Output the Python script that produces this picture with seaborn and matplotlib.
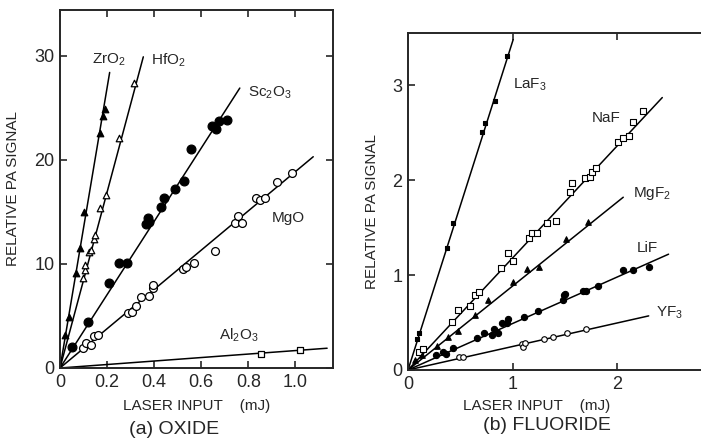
import numpy as np
import matplotlib
matplotlib.use("Agg")
import matplotlib.pyplot as plt
import seaborn as sns

# ---- (a) oxide data: laser input (mJ), relative PA signal
zro2_x = [0.021, 0.038, 0.068, 0.084, 0.101, 0.169, 0.181, 0.190]
zro2_y = [3.2, 4.9, 9.1, 11.5, 15.0, 22.6, 24.2, 24.9]
hfo2_x = [0.097, 0.105, 0.105, 0.122, 0.131, 0.143, 0.148, 0.169, 0.194, 0.249, 0.316]
hfo2_y = [8.65, 9.4, 9.9, 11.1, 11.3, 12.4, 12.8, 15.4, 16.6, 22.1, 27.4]
sc2o3_x = [0.051, 0.118, 0.207, 0.249, 0.283, 0.367, 0.380, 0.376, 0.430, 0.443,
           0.489, 0.527, 0.557, 0.646, 0.662, 0.675, 0.709]
sc2o3_y = [2.0, 4.4, 8.2, 10.1, 10.1, 13.8, 14.0, 14.4, 15.5, 16.3,
           17.2, 18.0, 21.0, 23.3, 23.0, 23.7, 23.8]
mgo_x = [0.097, 0.110, 0.131, 0.143, 0.160, 0.287, 0.308, 0.325, 0.346, 0.380, 0.397, 0.397,
         0.523, 0.536, 0.570, 0.658, 0.743, 0.755, 0.772, 0.831, 0.848, 0.869, 0.920, 0.987]
mgo_y = [1.9, 2.4, 2.2, 3.1, 3.2, 5.3, 5.4, 6.0, 6.8, 6.9, 7.7, 8.0,
         9.5, 9.7, 10.1, 11.2, 13.9, 14.6, 13.9, 16.3, 16.1, 16.3, 17.9, 18.7]
al2o3_x = [0.852, 1.021]
al2o3_y = [1.35, 1.73]

# fitted lines through the origin: end point of each line
oxide_names = ["ZrO$_2$", "HfO$_2$", "Sc$_2$O$_3$", "MgO", "Al$_2$O$_3$"]
oxide_line_x = [0.211, 0.354, 0.764, 1.076, 1.135]
oxide_line_y = [28.4, 29.9, 26.9, 20.3, 1.9]
oxide_label_x = [0.135, 0.385, 0.80, 0.90, 0.675]
oxide_label_y = [29.6, 29.6, 26.4, 14.4, 3.1]

# ---- (b) fluoride data
laf3_x = [0.086, 0.105, 0.373, 0.431, 0.708, 0.737, 0.833, 0.947]
laf3_y = [0.33, 0.39, 1.28, 1.55, 2.51, 2.60, 2.83, 3.31]
naf_x = [0.105, 0.144, 0.421, 0.478, 0.593, 0.641, 0.679, 0.890, 0.957, 1.005, 1.158, 1.187,
         1.234, 1.330, 1.416, 1.550, 1.569, 1.694, 1.742, 1.761, 1.799, 2.010, 2.057, 2.115,
         2.153, 2.249]
naf_y = [0.19, 0.22, 0.51, 0.63, 0.67, 0.79, 0.82, 1.07, 1.23, 1.15, 1.39, 1.44,
         1.44, 1.55, 1.57, 1.87, 1.97, 2.02, 2.03, 2.09, 2.13, 2.40, 2.44, 2.47,
         2.61, 2.73]
mgf2_x = [0.067, 0.134, 0.278, 0.383, 0.478, 0.641, 0.766, 1.005, 1.139, 1.254, 1.512, 1.722]
mgf2_y = [0.105, 0.16, 0.25, 0.35, 0.41, 0.58, 0.74, 0.93, 1.06, 1.09, 1.38, 1.56]
lif_x = [0.268, 0.335, 0.364, 0.431, 0.660, 0.727, 0.804, 0.823, 0.861, 0.900, 0.947, 0.957,
         1.110, 1.244, 1.483, 1.493, 1.502, 1.675, 1.703, 1.818, 2.057, 2.153, 2.306]
lif_y = [0.16, 0.19, 0.17, 0.23, 0.34, 0.39, 0.37, 0.43, 0.39, 0.49, 0.49, 0.54,
         0.56, 0.62, 0.74, 0.79, 0.80, 0.83, 0.83, 0.88, 1.05, 1.05, 1.08]
yf3_x = [0.488, 0.526, 1.091, 1.100, 1.120, 1.301, 1.388, 1.522, 1.703]
yf3_y = [0.14, 0.14, 0.27, 0.24, 0.28, 0.33, 0.35, 0.39, 0.43]

fluoride_names = ["LaF$_3$", "NaF", "MgF$_2$", "LiF", "YF$_3$"]
fluoride_line_x = [1.005, 2.43, 2.057, 2.49, 2.30]
fluoride_line_y = [3.48, 2.87, 1.82, 1.22, 0.57]
fluoride_label_x = [1.005, 1.76, 2.15, 2.19, 2.37]
fluoride_label_y = [3.0, 2.65, 1.86, 1.28, 0.60]

sns.set_style("ticks")
plt.rcParams['font.family'] = ['Liberation Sans', 'DejaVu Sans']
plt.rcParams['mathtext.fontset'] = 'custom'
plt.rcParams['mathtext.rm'] = 'Liberation Sans'
plt.rcParams['mathtext.it'] = 'Liberation Sans'

fig = plt.figure(figsize=(7.01, 4.42), dpi=100)
ax1 = fig.add_axes([60 / 701, 74 / 442, 273 / 701, 358 / 442])
ax2 = fig.add_axes([408 / 701, 72 / 442, 293 / 701, 337 / 442])


def draw_series(ax, x, y, marker, filled, size, lw=0.9):
    if filled:
        sns.scatterplot(x=x, y=y, ax=ax, marker=marker, color="black", s=size,
                        edgecolor="black", linewidth=lw, zorder=3)
    else:
        sns.scatterplot(x=x, y=y, ax=ax, marker=marker, color="white", s=size,
                        edgecolor="black", linewidth=lw, zorder=3)


# (a) oxide
oxide_sets = [(zro2_x, zro2_y, "^", True, 22), (hfo2_x, hfo2_y, "^", False, 22),
              (sc2o3_x, sc2o3_y, "o", True, 40), (mgo_x, mgo_y, "o", False, 32),
              (al2o3_x, al2o3_y, "s", False, 18)]
for (x, y, m, f, s), lx, ly in zip(oxide_sets, oxide_line_x, oxide_line_y):
    ax1.plot([0, lx], [0, ly], color="black", lw=1.1, zorder=2)
    draw_series(ax1, x, y, m, f, s)
for name, tx, ty in zip(oxide_names, oxide_label_x, oxide_label_y):
    ax1.text(tx, ty, name, fontsize=11, va="center", ha="left")

ax1.set_xlim(0, 1.16)
ax1.set_ylim(0, 34.4)
ax1.set_xticks([0, 0.2, 0.4, 0.6, 0.8, 1.0])
ax1.set_xticklabels(["0", "0.2", "0.4", "0.6", "0.8", "1.0"])
ax1.set_yticks([0, 10, 20, 30])
ax1.tick_params(direction="in", top=True, right=True, labelsize=13, length=5, width=1.2, pad=4)
ax1.set_xlabel("LASER INPUT    (mJ)", fontsize=11, labelpad=6)
ax1.set_ylabel("RELATIVE PA SIGNAL", fontsize=11, labelpad=10)
for sp in ax1.spines.values():
    sp.set_linewidth(1.4)

# (b) fluoride
fluoride_sets = [(laf3_x, laf3_y, "s", True, 12), (naf_x, naf_y, "s", False, 14),
                 (mgf2_x, mgf2_y, "^", True, 16), (lif_x, lif_y, "o", True, 20),
                 (yf3_x, yf3_y, "o", False, 16)]
for (x, y, m, f, s), lx, ly in zip(fluoride_sets, fluoride_line_x, fluoride_line_y):
    ax2.plot([0, lx], [0, ly], color="black", lw=1.1, zorder=2)
    draw_series(ax2, x, y, m, f, s, lw=0.8)
for name, tx, ty in zip(fluoride_names, fluoride_label_x, fluoride_label_y):
    ax2.text(tx, ty, name, fontsize=11, va="center", ha="left")

ax2.set_xlim(0, 2.80)
ax2.set_ylim(0, 3.55)
ax2.set_xticks([0, 1, 2])
ax2.set_yticks([0, 1, 2, 3])
ax2.tick_params(direction="in", top=True, right=False, labelsize=13, length=5, width=1.2, pad=4)
ax2.spines["right"].set_visible(False)
ax2.set_xlabel("LASER INPUT    (mJ)", fontsize=11)
ax2.xaxis.set_label_coords(0.44, -0.085)
ax2.set_ylabel("RELATIVE PA SIGNAL", fontsize=11)
ax2.yaxis.set_label_coords(-0.10, 0.47)
for sp in ax2.spines.values():
    sp.set_linewidth(1.4)

fig.text(174 / 701, 1 - 430 / 442, "(a) OXIDE", fontsize=14, ha="center", va="center")
fig.text(547 / 701, 1 - 425 / 442, "(b) FLUORIDE", fontsize=14, ha="center", va="center")

fig.savefig("out.png", dpi=100)
